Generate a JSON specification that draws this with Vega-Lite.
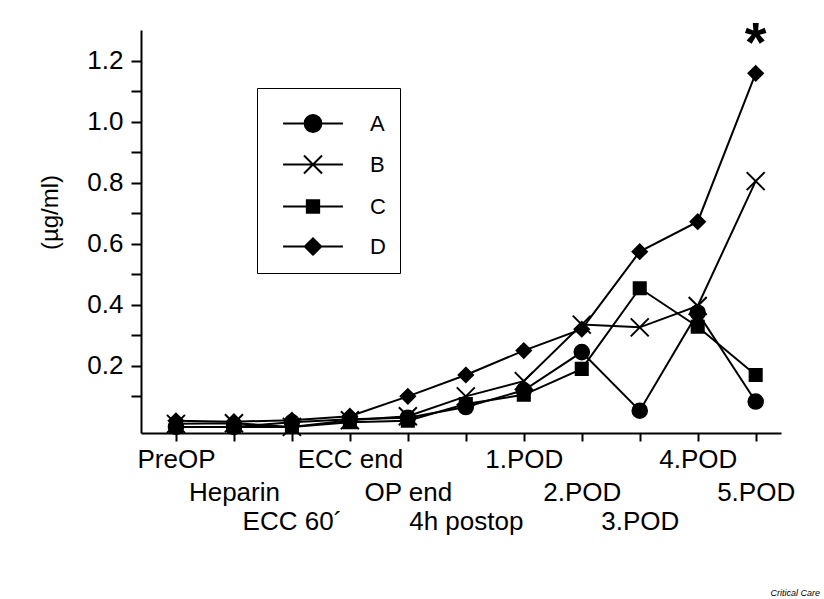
{
  "$schema": "https://vega.github.io/schema/vega-lite/v6.json",
  "width": 640,
  "height": 403,
  "autosize": "none",
  "padding": {"left": 141, "top": 30, "right": 43, "bottom": 166},
  "background": "white",
  "config": {
    "view": {"stroke": null},
    "font": "Liberation Sans",
    "axis": {
      "domainColor": "black", "tickColor": "black", "labelColor": "black", "titleColor": "black",
      "grid": false, "domainWidth": 2, "tickWidth": 2,
      "labelFont": "Liberation Sans", "titleFont": "Liberation Sans"
    }
  },
  "title": {
    "text": "Critical Care", "orient": "bottom", "anchor": "end", "frame": "group", "fontSize": 9,
    "fontStyle": "italic", "fontWeight": "normal", "offset": 55, "dx": 39, "color": "black",
    "font": "Liberation Sans"
  },
  "datasets": {
    "main": [
      {"t": "PreOP", "g": "A", "v": 0.0},
      {"t": "Heparin", "g": "A", "v": 0.0},
      {"t": "ECC 60´", "g": "A", "v": 0.015},
      {"t": "ECC end", "g": "A", "v": 0.025},
      {"t": "OP end", "g": "A", "v": 0.03},
      {"t": "4h postop", "g": "A", "v": 0.065},
      {"t": "1.POD", "g": "A", "v": 0.12},
      {"t": "2.POD", "g": "A", "v": 0.245},
      {"t": "3.POD", "g": "A", "v": 0.053},
      {"t": "4.POD", "g": "A", "v": 0.374},
      {"t": "5.POD", "g": "A", "v": 0.083},
      {"t": "PreOP", "g": "B", "v": 0.01},
      {"t": "Heparin", "g": "B", "v": 0.012},
      {"t": "ECC 60´", "g": "B", "v": 0.0},
      {"t": "ECC end", "g": "B", "v": 0.022},
      {"t": "OP end", "g": "B", "v": 0.035},
      {"t": "4h postop", "g": "B", "v": 0.1},
      {"t": "1.POD", "g": "B", "v": 0.15},
      {"t": "2.POD", "g": "B", "v": 0.335},
      {"t": "3.POD", "g": "B", "v": 0.326},
      {"t": "4.POD", "g": "B", "v": 0.396},
      {"t": "5.POD", "g": "B", "v": 0.805},
      {"t": "PreOP", "g": "C", "v": 0.0},
      {"t": "Heparin", "g": "C", "v": 0.0},
      {"t": "ECC 60´", "g": "C", "v": 0.0},
      {"t": "ECC end", "g": "C", "v": 0.015},
      {"t": "OP end", "g": "C", "v": 0.02},
      {"t": "4h postop", "g": "C", "v": 0.075},
      {"t": "1.POD", "g": "C", "v": 0.105},
      {"t": "2.POD", "g": "C", "v": 0.19},
      {"t": "3.POD", "g": "C", "v": 0.454},
      {"t": "4.POD", "g": "C", "v": 0.328},
      {"t": "5.POD", "g": "C", "v": 0.17},
      {"t": "PreOP", "g": "D", "v": 0.02},
      {"t": "Heparin", "g": "D", "v": 0.017},
      {"t": "ECC 60´", "g": "D", "v": 0.022},
      {"t": "ECC end", "g": "D", "v": 0.035},
      {"t": "OP end", "g": "D", "v": 0.1},
      {"t": "4h postop", "g": "D", "v": 0.17},
      {"t": "1.POD", "g": "D", "v": 0.25},
      {"t": "2.POD", "g": "D", "v": 0.32},
      {"t": "3.POD", "g": "D", "v": 0.574},
      {"t": "4.POD", "g": "D", "v": 0.672},
      {"t": "5.POD", "g": "D", "v": 1.158}
    ],
    "ann": [{"t": "5.POD", "v": 1.2, "s": "*"}]
  },
  "resolve": {"scale": {"shape": "independent"}, "legend": {"shape": "independent"}},
  "layer": [
    {
      "data": {"name": "main"},
      "mark": {"type": "line", "color": "black", "strokeWidth": 2},
      "encoding": {
        "x": {
          "field": "t", "type": "ordinal",
          "scale": {"type": "point", "domain": ["PreOP", "Heparin", "ECC 60´", "ECC end", "OP end", "4h postop", "1.POD", "2.POD", "3.POD", "4.POD", "5.POD"], "padding": 0.52, "align": 0.58},
          "axis": {
            "title": null, "tickSize": 8, "labelFontSize": 26, "labelAngle": 0,
            "labelBaseline": "top", "labelAlign": "center", "labelOverlap": false, "labelFlush": false,
            "labelPadding": {
              "condition": [
                {"test": "indexof(['Heparin','OP end','2.POD','5.POD'], datum.value) >= 0", "value": 38},
                {"test": "indexof(['ECC 60´','4h postop','3.POD'], datum.value) >= 0", "value": 67}
              ],
              "value": 5
            }
          }
        },
        "y": {
          "field": "v", "type": "quantitative",
          "scale": {"domain": [-0.02, 1.3], "nice": false, "zero": false},
          "axis": {
            "values": [0.1, 0.2, 0.3, 0.4, 0.5, 0.6, 0.7, 0.8, 0.9, 1.0, 1.1, 1.2],
            "tickCount": 30,
            "format": ".1f",
            "labelExpr": "(round(datum.value*10) % 2 == 0) ? datum.label : ''",
            "labelOverlap": false,
            "tickSize": 10, "labelPadding": 8, "labelFontSize": 26,
            "title": "(µg/ml)", "titleFontSize": 24, "titleFontWeight": "normal",
            "titleAngle": -90, "titleX": -91, "titleY": 182, "titleBaseline": "middle", "titleAlign": "center"
          }
        },
        "detail": {"field": "g", "type": "nominal"}
      }
    },
    {
      "data": {"name": "main"},
      "mark": {"type": "point", "filled": true, "opacity": 1, "color": "black", "stroke": "black", "strokeWidth": 2, "size": 324},
      "encoding": {
        "x": {"field": "t", "type": "ordinal"},
        "y": {"field": "v", "type": "quantitative"},
        "shape": {
          "field": "g", "type": "nominal",
          "scale": {"domain": ["A", "B", "C", "D"], "range": [
            "M-0.81,0A0.81,0.81 0 1,1 0.81,0A0.81,0.81 0 1,1 -0.81,0Z",
            "M-1,-1L1,1M-1,1L1,-1",
            "M-0.67,-0.67H0.67V0.67H-0.67Z",
            "M0,-0.8L0.8,0L0,0.8L-0.8,0Z"
          ]},
          "legend": null
        }
      }
    },
    {
      "data": {"name": "main"},
      "mark": {"type": "point", "filled": false, "opacity": 0, "fill": "black", "stroke": "black", "strokeWidth": 2, "size": 1681},
      "encoding": {
        "x": {"field": "t", "type": "ordinal"},
        "y": {"field": "v", "type": "quantitative"},
        "shape": {
          "field": "g", "type": "nominal",
          "scale": {"domain": ["A", "B", "C", "D"], "range": [
            "M-0.46,0H2.46M0.59,0A0.41,0.41 0 1,1 1.41,0A0.41,0.41 0 1,1 0.59,0Z",
            "M-0.46,0H2.46M0.56,-0.44L1.44,0.44M0.56,0.44L1.44,-0.44",
            "M-0.46,0H2.46M0.7,-0.3H1.3V0.3H0.7Z",
            "M-0.46,0H2.46M0.6,0L1,-0.4L1.4,0L1,0.4Z"
          ]},
          "legend": {
            "title": null, "orient": "none", "legendX": 116, "legendY": 58, "direction": "vertical",
            "padding": 14, "strokeColor": "black", "fillColor": "white",
            "symbolSize": 1681, "symbolOpacity": 1, "symbolStrokeWidth": 2,
            "labelFontSize": 22, "labelFont": "Liberation Sans", "labelColor": "black",
            "labelOffset": 56, "rowPadding": 7, "labelLimit": 200,
            "labelExpr": "datum.label + '\u00a0'"
          }
        }
      }
    },
    {
      "data": {"name": "ann"},
      "mark": {"type": "text", "fontSize": 56, "fontWeight": "bold", "baseline": "alphabetic", "align": "center", "color": "black"},
      "encoding": {
        "x": {"field": "t", "type": "ordinal"},
        "y": {"field": "v", "type": "quantitative"},
        "text": {"field": "s"}
      }
    }
  ]
}
